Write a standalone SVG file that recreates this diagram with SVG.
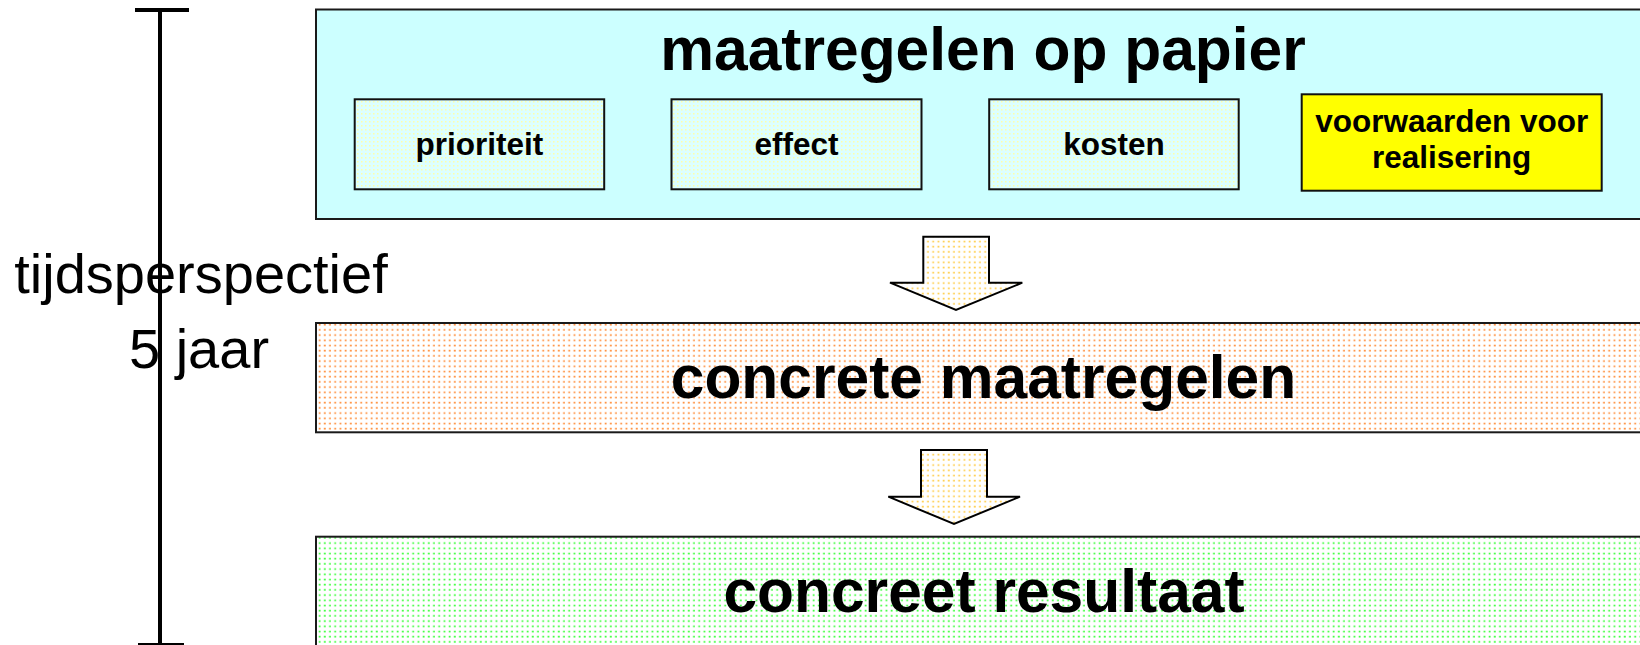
<svg xmlns="http://www.w3.org/2000/svg" width="1640" height="645" viewBox="0 0 1640 645">
<style>
  .box { stroke: #1a1a1a; stroke-width: 2; }
  .sub { stroke: #111; stroke-width: 2; }
  .arrow { stroke: #000; stroke-width: 2; stroke-linejoin: miter; }
  .big { font-family: "Liberation Sans", Arial, sans-serif; font-weight: bold; font-size: 60.5px; fill: #000; text-anchor: middle; }
  .small { font-family: "Liberation Sans", Arial, sans-serif; font-weight: bold; font-size: 31.5px; fill: #000; text-anchor: middle; }
  .side { font-family: "Liberation Sans", Arial, sans-serif; font-size: 56px; fill: #000; text-anchor: middle; }
  .scale { stroke: #000; stroke-width: 4; fill: none; }
</style>
<defs>
  <pattern id="pSub" width="4" height="4" patternUnits="userSpaceOnUse">
    <rect width="4" height="4" fill="#DCFFFF"/>
    <rect x="1" y="1" width="1.5" height="1.5" fill="#FFFFAA"/>
  </pattern>
  <pattern id="pArrow" width="5.2" height="5.2" patternUnits="userSpaceOnUse">
    <rect width="5.2" height="5.2" fill="#FFFFFF"/>
    <rect x="1.5" y="1.5" width="1.8" height="1.6" fill="#FFCC44"/>
  </pattern>
  <pattern id="pOrange" width="5.2" height="5.2" patternUnits="userSpaceOnUse">
    <rect width="5.2" height="5.2" fill="#FFFFFF"/>
    <rect x="1.5" y="1.5" width="1.8" height="1.6" fill="#FF8A33"/>
  </pattern>
  <pattern id="pGreen" width="5.2" height="5.2" patternUnits="userSpaceOnUse">
    <rect width="5.2" height="5.2" fill="#FFFFFF"/>
    <rect x="1.5" y="1.5" width="1.8" height="1.6" fill="#33FF33"/>
  </pattern>
</defs>

<g id="time-scale">
  <line class="scale" x1="160" y1="10" x2="160" y2="645"/>
  <line class="scale" x1="135" y1="10" x2="189" y2="10"/>
  <line class="scale" x1="138" y1="645" x2="184" y2="645"/>
</g>

<g id="top-box">
  <rect class="box" x="316" y="9.5" width="1340" height="209.5" fill="#CCFFFF"/>
  <text class="big" x="983" y="69.5">maatregelen op papier</text>
</g>

<g id="prioriteit">
  <rect class="sub" x="354.7" y="99.3" width="249.5" height="90" fill="url(#pSub)"/>
  <text class="small" x="479.5" y="155">prioriteit</text>
</g>

<g id="effect">
  <rect class="sub" x="671.5" y="99.3" width="250" height="90" fill="url(#pSub)"/>
  <text class="small" x="796.5" y="155">effect</text>
</g>

<g id="kosten">
  <rect class="sub" x="989.2" y="99.3" width="249.5" height="90" fill="url(#pSub)"/>
  <text class="small" x="1114" y="155">kosten</text>
</g>

<g id="voorwaarden">
  <rect class="sub" x="1301.7" y="94.3" width="300" height="96.4" fill="#FFFF00"/>
  <text class="small" x="1451.7" y="131.7">voorwaarden voor</text>
  <text class="small" x="1451.7" y="168.3">realisering</text>
</g>

<g id="connectors">
  <polygon class="arrow" fill="url(#pArrow)" points="923.3,236.7 989,236.7 989,282.7 1022.3,282.7 956,310 890,282.7 923.3,282.7"/>
  <polygon class="arrow" fill="url(#pArrow)" points="921,450 987,450 987,496.7 1020,496.7 954,524 888.3,496.7 921,496.7"/>
</g>

<g id="concrete-maatregelen">
  <rect class="box" x="316" y="323" width="1340" height="109.3" fill="url(#pOrange)"/>
  <text class="big" x="983.5" y="398">concrete maatregelen</text>
</g>

<g id="concreet-resultaat">
  <rect class="box" x="316" y="536.7" width="1340" height="130" fill="url(#pGreen)"/>
  <text class="big" x="984" y="611.7">concreet resultaat</text>
</g>

<g id="side-label">
  <text class="side" x="201" y="293.3">tijdsperspectief</text>
  <text class="side" x="199" y="368.3">5 jaar</text>
</g>
</svg>
